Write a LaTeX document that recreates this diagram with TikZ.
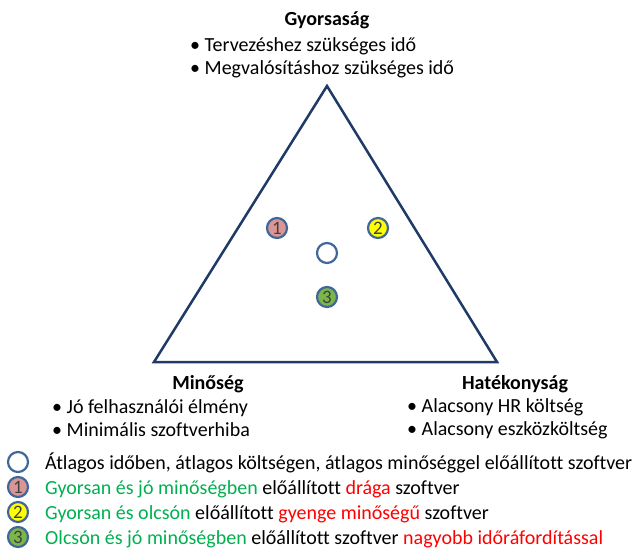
\documentclass[tikz,border=0pt]{standalone}
\usepackage{fontspec}
\setmainfont[Ligatures=NoCommon]{Carlito}
\usetikzlibrary{positioning}
\definecolor{tribl}{HTML}{1F3A66}
\definecolor{ringbl}{HTML}{41679A}
\definecolor{pinkf}{HTML}{D99694}
\definecolor{yellowf}{HTML}{FFFF00}
\definecolor{greenf}{HTML}{7AB648}
\definecolor{txtg}{HTML}{00B050}
\definecolor{txtr}{HTML}{FF0000}
\tikzset{
    dotnode/.style = {circle, line width=2.2pt, draw=ringbl, fill=white, minimum size=20pt, inner sep=0pt, font=\fontsize{19}{19}\selectfont, text=black!75},
    dotnoder/.style = {dotnode, fill=pinkf},
    dotnodey/.style = {dotnode, fill=yellowf},
    dotnodeg/.style = {dotnode, fill=greenf},
    headnode/.style = {anchor=base, inner sep=0pt, font=\fontsize{20}{23}\selectfont\bfseries},
    listnode/.style = {anchor=base west, inner sep=0pt, align=left, font=\fontsize{20}{23}\selectfont},
    legnode/.style = {anchor=base west, inner sep=0pt, font=\fontsize{20}{23}\selectfont},
    edget/.style = {-, line width=2.5pt, tribl, line join=miter}
}

\begin{document}
\begin{tikzpicture}[x=1pt, y=-1pt]
  \useasboundingbox (0,0) rectangle (640,549);
  % triangle
  \coordinate (top) at (327,86);
  \coordinate (left) at (154,362);
  \coordinate (right) at (497,362);
  \draw[edget] (top) -- (left) -- (right) -- cycle;
  % points inside
  \node[dotnoder] (p1) at (277,228) {1};
  \node[dotnodey] (p2) at (378,228) {2};
  \node[dotnode] (p0) at (327,253) {};
  \node[dotnodeg] (p3) at (327,297) {3};
  % corners (base = last line)
  \node[headnode] (speed) at (327,25) {Gyorsaság};
  \node[listnode] (speedl) at (190,74) {\textbullet\ Tervezéshez szükséges idő\\\textbullet\ Megvalósításhoz szükséges idő};
  \node[headnode] (qual) at (208,389) {Minőség};
  \node[listnode] (quall) at (52,436) {\textbullet\ Jó felhasználói élmény\\\textbullet\ Minimális szoftverhiba};
  \node[headnode] (eff) at (515,389) {Hatékonyság};
  \node[listnode] (effl) at (407,435) {\textbullet\ Alacsony HR költség\\\textbullet\ Alacsony eszközköltség};
  % legend
  \node[dotnode] (leg0) at (18,462) {};
  \node[dotnoder] (leg1) at (18,487) {1};
  \node[dotnodey] (leg2) at (18,512) {2};
  \node[dotnodeg] (leg3) at (18,537) {3};
  \node[legnode] (txt0) at (45,469) {Átlagos időben, átlagos költségen, átlagos minőséggel előállított szoftver};
  \node[legnode] (txt1) at (45,494) {\textcolor{txtg}{Gyorsan és jó minőségben} előállított \textcolor{txtr}{drága} szoftver};
  \node[legnode] (txt2) at (45,519) {\textcolor{txtg}{Gyorsan és olcsón} előállított \textcolor{txtr}{gyenge minőségű} szoftver};
  \node[legnode] (txt3) at (45,544) {\textcolor{txtg}{Olcsón és jó minőségben} előállított szoftver \textcolor{txtr}{nagyobb időráfordítással}};
\end{tikzpicture}
\end{document}
